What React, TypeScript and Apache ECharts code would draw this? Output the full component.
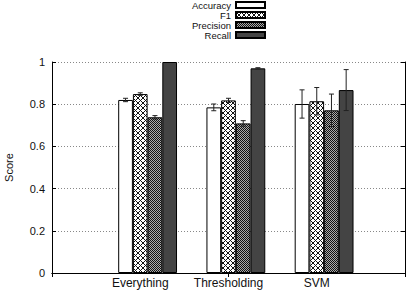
import React, { useEffect, useRef } from 'react';
import * as echarts from 'echarts';

// Method groups along the x axis
const categories = ['Everything', 'Thresholding', 'SVM'];
const seriesNames = ['Accuracy', 'F1', 'Precision', 'Recall'];

// Mean scores per method
const accuracy = [0.82, 0.785, 0.801];
const f1 = [0.848, 0.818, 0.814];
const precision = [0.738, 0.709, 0.771];
const recall = [1.0, 0.97, 0.867];

// Error bar half-widths (standard deviation)
const accuracyErr = [0.008, 0.016, 0.067];
const f1Err = [0.006, 0.01, 0.065];
const precisionErr = [0.008, 0.013, 0.077];
const recallErr = [0, 0.003, 0.097];

const yMin = 0;
const yMax = 1;
const yStep = 0.2;

const FONT = "'Liberation Sans', Arial, Helvetica, sans-serif";

function makeTile(size: number, isDark: (x: number, y: number) => boolean, dark: string, light: string) {
  const c = document.createElement('canvas');
  c.width = size;
  c.height = size;
  const ctx = c.getContext('2d')!;
  for (let y = 0; y < size; y++) {
    for (let x = 0; x < size; x++) {
      ctx.fillStyle = isDark(x, y) ? dark : light;
      ctx.fillRect(x, y, 1, 1);
    }
  }
  return { image: c.toDataURL(), repeat: 'repeat', imageWidth: size, imageHeight: size };
}

export default function App() {
  const ref = useRef<HTMLDivElement>(null);

  useEffect(() => {
    if (!ref.current) return;
    const chart = echarts.init(ref.current, undefined, { renderer: 'svg' });

    // gnuplot-like fill patterns
    const crossHatch = makeTile(5, (x, y) => (x + y) % 5 === 0 || (x - y + 5) % 5 === 0, '#111', '#fff');
    const fineHatch = makeTile(2, (x, y) => (x + y) % 2 === 0, '#111', '#aaa');

    const values = [accuracy, f1, precision, recall];
    const errors = [accuracyErr, f1Err, precisionErr, recallErr];
    const fills: any[] = ['#ffffff', crossHatch, fineHatch, '#444444'];

    // Categories padded with an empty slot on each side (x range -1..3)
    const xCats = ['', ...categories, ''];
    const pad = (arr: number[]) => ['-', ...arr, '-'];

    const barSeries = seriesNames.map((name, k) => ({
      name,
      type: 'bar',
      data: pad(values[k]),
      barWidth: `${100 / 6}%`,
      barGap: '0%',
      itemStyle: { color: fills[k], borderColor: '#000', borderWidth: 1 },
      z: 2,
    }));

    // Leading empty slot in each cluster, as in gnuplot's clustered histogram
    const gapSeries = {
      name: '_gap',
      type: 'bar',
      data: pad([NaN, NaN, NaN]),
      barWidth: `${100 / 6}%`,
      barGap: '0%',
      silent: true,
    };

    const errData: number[][] = [];
    seriesNames.forEach((_, k) => {
      categories.forEach((__, i) => {
        errData.push([i + 1, values[k][i], errors[k][i], k]);
      });
    });

    const errorSeries = {
      type: 'custom',
      name: 'err',
      data: errData,
      encode: { x: 0, y: 1 },
      z: 5,
      silent: true,
      renderItem: (params: any, api: any) => {
        const cx = api.value(0);
        const v = api.value(1);
        const e = api.value(2);
        const k = api.value(3);
        if (!e) return null;
        const w = api.size([1, 0])[0] / 6;
        const off = (k - 1) * w;
        const hi = api.coord([cx, v + e]);
        const lo = api.coord([cx, v - e]);
        const x = hi[0] + off;
        const cap = 2.5;
        const style = { stroke: '#222', lineWidth: 1 };
        return {
          type: 'group',
          children: [
            { type: 'line', shape: { x1: x, y1: hi[1], x2: x, y2: lo[1] }, style },
            { type: 'line', shape: { x1: x - cap, y1: hi[1], x2: x + cap, y2: hi[1] }, style },
            { type: 'line', shape: { x1: x - cap, y1: lo[1], x2: x + cap, y2: lo[1] }, style },
          ],
        };
      },
    };

    const axisLine = { show: true, lineStyle: { color: '#000', width: 1 } };

    chart.setOption({
      animation: false,
      textStyle: { fontFamily: FONT, color: '#111' },
      legend: {
        data: seriesNames,
        orient: 'vertical',
        align: 'right',
        right: 145,
        top: 0,
        padding: 0,
        icon: 'rect',
        itemWidth: 29,
        itemHeight: 6,
        itemGap: 0,
        textStyle: { fontFamily: FONT, fontSize: 9.5, color: '#111', lineHeight: 10 },
        selectedMode: false,
      },
      grid: { left: 52, right: 6, top: 62, bottom: 19, containLabel: false, outerBoundsMode: 'none' },
      xAxis: [
        {
          type: 'category',
          data: xCats,
          boundaryGap: false,
          position: 'bottom',
          axisLine,
          axisTick: { show: true, inside: true, length: 4, lineStyle: { color: '#000' } },
          axisLabel: { fontFamily: FONT, fontSize: 12, color: '#111', margin: 4, interval: 0 },
          splitLine: { show: false },
        },
        {
          type: 'category',
          data: xCats,
          boundaryGap: false,
          position: 'top',
          axisLine,
          axisTick: { show: true, inside: true, length: 4, lineStyle: { color: '#000' } },
          axisLabel: { show: false },
          splitLine: { show: false },
        },
      ],
      yAxis: [
        {
          type: 'value',
          min: yMin,
          max: yMax,
          interval: yStep,
          position: 'left',
          name: 'Score',
          nameLocation: 'middle',
          nameGap: 38,
          nameTextStyle: { fontFamily: FONT, fontSize: 11, color: '#111' },
          axisLine,
          axisTick: { show: true, inside: true, length: 4, lineStyle: { color: '#000' } },
          axisLabel: { fontFamily: FONT, fontSize: 11, color: '#111', margin: 7 },
          splitLine: { show: true, lineStyle: { type: [1, 2], color: '#888', width: 1 } },
        },
        {
          type: 'value',
          min: yMin,
          max: yMax,
          interval: yStep,
          position: 'right',
          axisLine,
          axisTick: { show: true, inside: true, length: 4, lineStyle: { color: '#000' } },
          axisLabel: { show: false },
          splitLine: { show: false },
        },
      ],
      series: [gapSeries, ...barSeries, errorSeries],
    });

    return () => chart.dispose();
  }, []);

  return (
    <div
      ref={ref}
      style={{ position: 'absolute', left: 0, top: 0, width: 411, height: 292, background: '#fff' }}
    />
  );
}
